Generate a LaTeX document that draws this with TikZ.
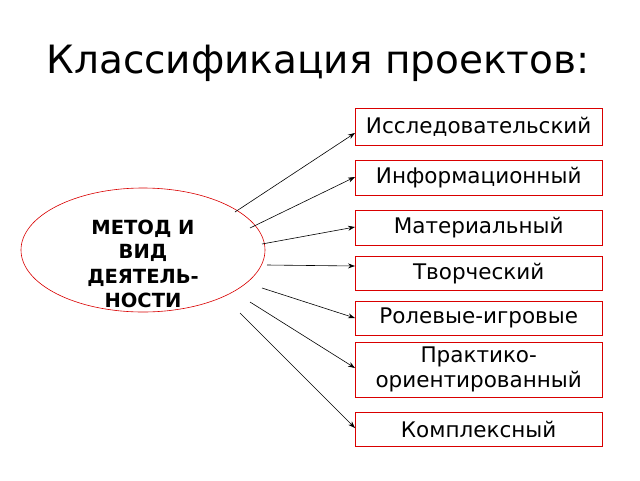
\documentclass[tikz,border=0pt]{standalone}
\usepackage{fontspec}
\setmainfont{DejaVu Sans}
\usetikzlibrary{arrows.meta}
\begin{document}
\begin{tikzpicture}[x=1pt,y=-1pt,
  box/.style={draw=red!85!black,fill=white,minimum width=247pt,inner sep=0pt,align=center,font=\fontsize{21.5}{25}\selectfont,anchor=north west},
  arr/.style={-{Stealth[length=7pt,width=5pt]},line width=0.6pt}]
\useasboundingbox (0,0) rectangle (640,480);
\node (title) at (318,63) {\fontsize{39}{44}\selectfont Классификация проектов:};
\draw[red!85!black,fill=white,line width=0.6pt] (143,250) ellipse [x radius=122, y radius=62];
\node[align=center,font=\bfseries\fontsize{19.5}{24.5}\selectfont] (e) at (143,264) {МЕТОД И\\ВИД\\ДЕЯТЕЛЬ-\\НОСТИ};
\node[box,minimum height=37pt] (b1) at (355,108) {Исследовательский};
\node[box,minimum height=35pt] (b2) at (355,160) {Информационный};
\node[box,minimum height=35pt] (b3) at (355,210) {Материальный};
\node[box,minimum height=34pt] (b4) at (355,256) {Творческий};
\node[box,minimum height=34pt] (b5) at (355,301) {Ролевые-игровые};
\node[box,minimum height=55pt] (b6) at (355,342) {Практико-\\ориентированный};
\node[box,minimum height=34pt] (b7) at (355,412) {Комплексный};
\coordinate (s1) at (235,212);
\coordinate (s2) at (250,228);
\coordinate (s3) at (262,244);
\coordinate (s4) at (267,265);
\coordinate (s5) at (262,288);
\coordinate (s6) at (250,302);
\coordinate (s7) at (240,313);
\draw[arr] (s1) -- (b1.west |- 0,133);
\draw[arr] (s2) -- (b2.west |- 0,177);
\draw[arr] (s3) -- (b3.west |- 0,227);
\draw[arr] (s4) -- (b4.west |- 0,266);
\draw[arr] (s5) -- (b5.west |- 0,318);
\draw[arr] (s6) -- (b6.west |- 0,368);
\draw[arr] (s7) -- (b7.west |- 0,428);
\end{tikzpicture}
\end{document}
